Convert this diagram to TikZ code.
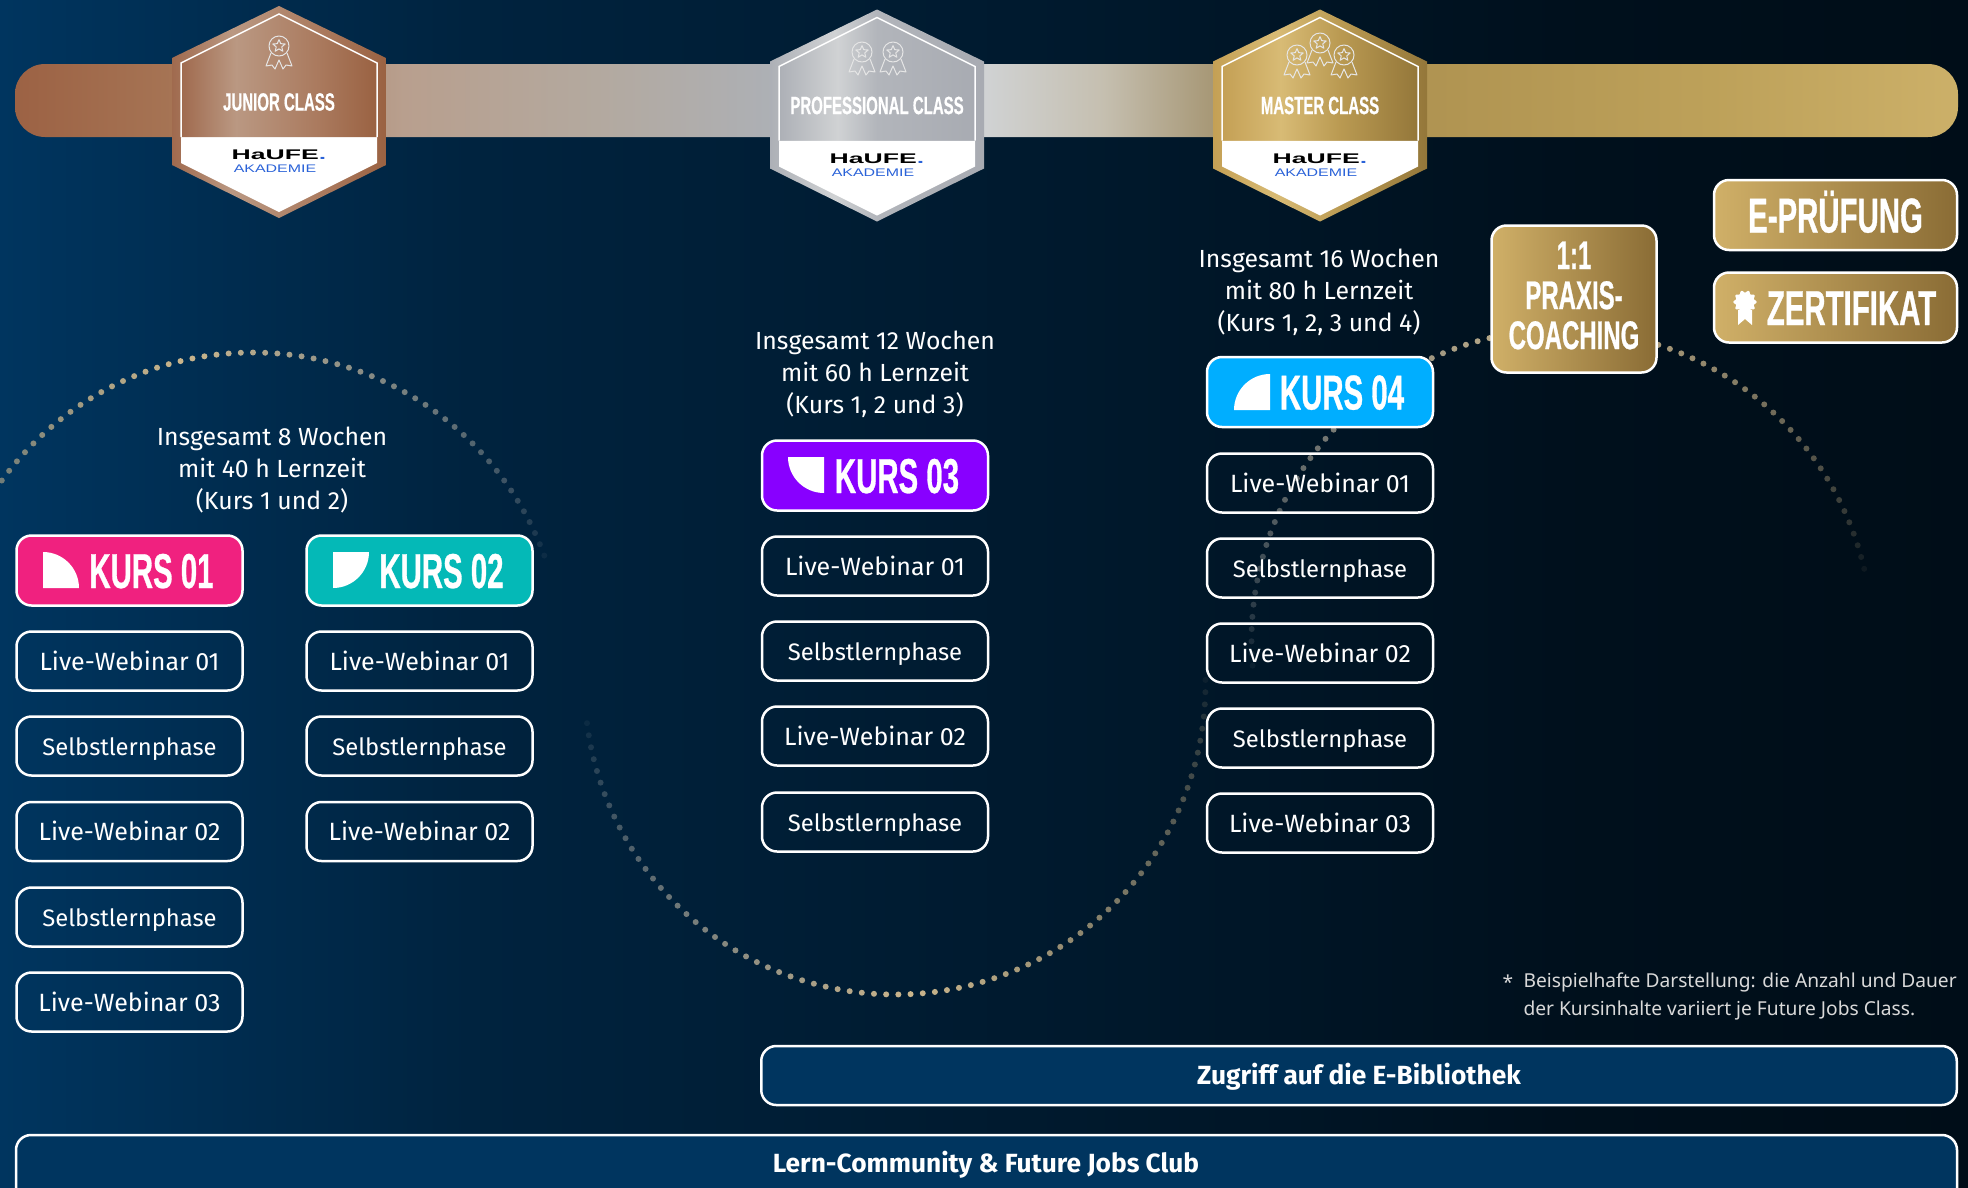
\documentclass[tikz,border=0pt]{standalone}
\usepackage{fontspec}
\setmainfont{Fira Sans}
\newfontfamily\kursfont[FakeStretch=0.6,BoldFeatures={FakeBold=0.6}]{Liberation Sans}
\newfontfamily\logofont[FakeStretch=1.9]{Liberation Sans}
\newfontfamily\akadfont[FakeStretch=1.45]{Liberation Sans}
\newfontfamily\notefont{Noto Sans}
\usetikzlibrary{shadings}

\definecolor{kurspink}{HTML}{F0217F}
\definecolor{kursteal}{HTML}{04B9B7}
\definecolor{kurspurple}{HTML}{8800FF}
\definecolor{kursblue}{HTML}{00AEFF}
\definecolor{barblue}{HTML}{00355F}
\definecolor{dotgray}{HTML}{C4C4C4}
\definecolor{dottan}{HTML}{CBB68C}
\definecolor{logoblue}{HTML}{2A62D8}

\pgfdeclarehorizontalshading{pageshade}{100bp}{color(0bp)=(barblue);color(25bp)=(barblue);color(37bp)=(barblue!66!black);color(52.5bp)=(barblue!47!black);color(65bp)=(barblue!30!black);color(75bp)=(barblue!25!black);color(100bp)=(barblue!25!black)}
\pgfdeclarehorizontalshading{bandshade}{100bp}{rgb(0bp)=(.612,.384,.267);rgb(25bp)=(.612,.384,.267);rgb(30bp)=(.659,.471,.345);rgb(35bp)=(.722,.624,.557);rgb(40bp)=(.702,.663,.624);rgb(44.5bp)=(.678,.690,.710);rgb(50bp)=(.816,.824,.827);rgb(53bp)=(.773,.749,.690);rgb(56bp)=(.647,.584,.447);rgb(61.5bp)=(.690,.580,.320);rgb(68.5bp)=(.740,.630,.350);rgb(75bp)=(.800,.690,.410);rgb(100bp)=(.800,.690,.410)}
\pgfdeclarehorizontalshading{bronzeshade}{100bp}{rgb(0bp)=(.627,.416,.306);rgb(25bp)=(.627,.416,.306);rgb(39bp)=(.729,.596,.510);rgb(60bp)=(.667,.478,.369);rgb(75bp)=(.604,.384,.259);rgb(100bp)=(.604,.384,.259)}
\pgfdeclarehorizontalshading{silvershade}{100bp}{rgb(0bp)=(.678,.690,.714);rgb(25bp)=(.678,.690,.714);rgb(40bp)=(.816,.824,.831);rgb(50bp)=(.698,.710,.733);rgb(75bp)=(.659,.671,.698);rgb(100bp)=(.659,.671,.698)}
\pgfdeclarehorizontalshading{goldshade}{100bp}{rgb(0bp)=(.769,.627,.333);rgb(25bp)=(.769,.627,.333);rgb(40bp)=(.847,.733,.459);rgb(55bp)=(.729,.604,.322);rgb(75bp)=(.580,.467,.227);rgb(100bp)=(.580,.467,.227)}
\pgfdeclarehorizontalshading{buttonshade}{100bp}{rgb(0bp)=(.816,.690,.408);rgb(25bp)=(.816,.690,.408);rgb(75bp)=(.541,.424,.208);rgb(100bp)=(.541,.424,.208)}

\tikzset{
  rowbox/.style={draw=white,line width=2.5pt,rounded corners=15pt,inner sep=0pt,minimum width=226pt,minimum height=59pt,text=white,font=\fontsize{25}{30}\selectfont,text height=23pt,text depth=5pt},
  lernbox/.style={rowbox,font=\fontsize{23.8}{30}\selectfont},
  kursbox/.style={rowbox,minimum height=70pt,font=\kursfont\bfseries\fontsize{49}{49}\selectfont,text height=35pt,text depth=0pt},
  goldbox/.style={kursbox,shading=buttonshade},
  barbox/.style={rowbox,fill=barblue,font=\bfseries\fontsize{26.3}{30}\selectfont},
  intro/.style={text=white,align=center,font=\fontsize{24.8}{32}\selectfont},
  badgetitle/.style={text=white,font=\kursfont\bfseries\fontsize{25}{25}\selectfont},
  logotop/.style={text=black,font=\logofont\bfseries\fontsize{14}{14}\selectfont},
  logobottom/.style={text=logoblue,font=\akadfont\fontsize{11}{11}\selectfont},
  medalline/.style={draw=white!90!black,line width=1pt,line join=round},
  notetext/.style={text=white!85!black,font=\notefont\fontsize{19.2}{28}\selectfont},
}

% hexagon: centre x, y shift, border, fill, node name, title
\newcommand{\badge}[6]{
  \shade[shading=#3] (#1,{6+#2}) -- ({#1+107},{58+#2}) -- ({#1+107},{165+#2}) -- (#1,{218+#2}) -- ({#1-107},{165+#2}) -- ({#1-107},{58+#2}) -- cycle;
  \fill[white] ({#1-98},{137+#2}) -- ({#1+98},{137+#2}) -- ({#1+98},{163+#2}) -- (#1,{212+#2}) -- ({#1-98},{163+#2}) -- cycle;
  \shade[shading=#4] (#1,{14+#2}) -- ({#1+98},{63+#2}) -- ({#1+98},{137+#2}) -- ({#1-98},{137+#2}) -- ({#1-98},{63+#2}) -- cycle;
  \draw[white,line width=1.5pt] ({#1-98},{137+#2}) -- ({#1-98},{63+#2}) -- (#1,{14+#2}) -- ({#1+98},{63+#2}) -- ({#1+98},{137+#2});
  \node[badgetitle] (#5title) at (#1,{102+#2}) {#6};
  \node[logotop] (#5haufe) at (#1,{155+#2}) {HaUFE\textcolor{logoblue}{.}};
  \node[logobottom] (#5akad) at ({#1-4},{169+#2}) {AKADEMIE};
}

\newcommand{\medal}[2]{
  \draw[medalline] (#1,#2) circle (10);
  \draw[medalline] plot[domain=0:360,samples=11] ({#1+(4.7+1.8*cos(5*\x))*sin(\x)},{#2-(4.7+1.8*cos(5*\x))*cos(\x)});
  \draw[medalline] ({#1-8},{#2+7}) -- ({#1-13},{#2+20}) -- ({#1-7},{#2+19}) -- ({#1-4},{#2+23}) -- (#1,{#2+14}) -- ({#1+4},{#2+23}) -- ({#1+7},{#2+19}) -- ({#1+13},{#2+20}) -- ({#1+8},{#2+7});
}

% centre x, centre y, first angle, brightest angle, last angle
\newcommand{\dotarc}[5]{
  \pgfmathtruncatemacro{\dotsteps}{abs(#5-#3)/2.25}
  \foreach \i in {0,...,\dotsteps}{
    \pgfmathsetmacro{\dotang}{#3+(#5-#3)/\dotsteps*\i}
    \pgfmathsetmacro{\dotup}{(\dotang-#3)/(#4-#3)}
    \pgfmathsetmacro{\dotdown}{(#5-\dotang)/(#5-#4)}
    \pgfmathsetmacro{\dotfade}{max(0,min(\dotup,\dotdown))^0.75}
    \pgfmathtruncatemacro{\dotmix}{100*max(0,1-\dotup)}
    \fill[dotgray!\dotmix!dottan,opacity=\dotfade] ({#1+310.5*cos(\dotang)},{#2+310.5*sin(\dotang)}) circle (3);
  }
}

\begin{document}
\begin{tikzpicture}[x=1pt,y=-1pt]
\useasboundingbox (0,0) rectangle (1968,1187);
\clip (0,0) rectangle (1968,1187);
\shade[shading=pageshade] (0,0) rectangle (1968,1187);

% dotted wave
\dotarc{253}{663}{342}{257}{180}
\dotarc{895}{684}{175}{87}{-3}
\dotarc{1562}{640}{173}{270}{349}

% band with the three badges
\shade[shading=bandshade,rounded corners=30pt] (15,64) rectangle (1958,137);
\badge{279}{0}{bronzeshade}{bronzeshade}{junior}{JUNIOR CLASS}
\badge{877}{3.5}{silvershade}{silvershade}{prof}{PROFESSIONAL CLASS}
\badge{1320}{3.5}{goldshade}{goldshade}{master}{MASTER CLASS}
\medal{279}{46}
\medal{862}{52}
\medal{893}{52}
\medal{1297}{55}
\medal{1320}{43}
\medal{1344}{55}

% class texts
\node[intro] (textjunior) at (272,470.5) {Insgesamt 8 Wochen\\mit 40 h Lernzeit\\(Kurs 1 und 2)};
\node[intro] (textprof) at (875,374.5) {Insgesamt 12 Wochen\\mit 60 h Lernzeit\\(Kurs 1, 2 und 3)};
\node[intro] (textmaster) at (1319,292.5) {Insgesamt 16 Wochen\\mit 80 h Lernzeit\\(Kurs 1, 2, 3 und 4)};

% kurs 01
\node[kursbox,fill=kurspink] (kurs1) at (129.5,570.5) {\hspace*{44pt}KURS 01};
\fill[white] (43,552) arc (270:360:36) -- (43,588) -- cycle;
\node[rowbox] (k1a) at (129.5,661) {Live-Webinar 01};
\node[lernbox] (k1b) at (129.5,746) {Selbstlernphase};
\node[rowbox] (k1c) at (129.5,831.5) {Live-Webinar 02};
\node[lernbox] (k1d) at (129.5,917) {Selbstlernphase};
\node[rowbox] (k1e) at (129.5,1002) {Live-Webinar 03};

% kurs 02
\node[kursbox,fill=kursteal] (kurs2) at (419.5,570.5) {\hspace*{44pt}KURS 02};
\fill[white] (333,552) -- (369,552) arc (0:90:36) -- cycle;
\node[rowbox] (k2a) at (419.5,661) {Live-Webinar 01};
\node[lernbox] (k2b) at (419.5,746) {Selbstlernphase};
\node[rowbox] (k2c) at (419.5,831.5) {Live-Webinar 02};

% kurs 03
\node[kursbox,fill=kurspurple] (kurs3) at (875,475.5) {\hspace*{44pt}KURS 03};
\fill[white] (788,457) -- (824,457) -- (824,493) arc (90:180:36) -- cycle;
\node[rowbox] (k3a) at (875,566) {Live-Webinar 01};
\node[lernbox] (k3b) at (875,651) {Selbstlernphase};
\node[rowbox] (k3c) at (875,736) {Live-Webinar 02};
\node[lernbox] (k3d) at (875,822) {Selbstlernphase};

% kurs 04
\node[kursbox,fill=kursblue] (kurs4) at (1320,392) {\hspace*{44pt}KURS 04};
\fill[white] (1270,410) -- (1234,410) arc (180:270:36) -- cycle;
\node[rowbox] (k4a) at (1320,483) {Live-Webinar 01};
\node[lernbox] (k4b) at (1320,568) {Selbstlernphase};
\node[rowbox] (k4c) at (1320,653) {Live-Webinar 02};
\node[lernbox] (k4d) at (1320,738) {Selbstlernphase};
\node[rowbox] (k4e) at (1320,823) {Live-Webinar 03};

% gold buttons
\node[goldbox,minimum width=165pt,minimum height=147pt] (coaching) at (1574,299) {};
\node[text=white,align=center,font=\kursfont\bfseries\fontsize{40}{40}\selectfont] (coachingtext) at (1574,295.5) {1:1\\PRAXIS-\\COACHING};
\node[goldbox,minimum width=243pt] (pruefung) at (1835.5,215) {E-PRÜFUNG};
\node[goldbox,minimum width=243pt] (zertifikat) at (1835.5,307.5) {\hspace*{32pt}ZERTIFIKAT};
\fill[white] plot[domain=0:360,samples=73,smooth cycle] ({1745+(10.5+1.2*cos(10*\x))*cos(\x)},{302+(10.5+1.2*cos(10*\x))*sin(\x)});
\fill[white] (1738,310) -- (1738,325) -- (1745,319) -- (1752,325) -- (1752,310) -- cycle;

% footnote
\node[notetext,anchor=base west] (star) at (1499,989) {*};
\node[notetext,anchor=north west,align=left] (note) at (1520,969) {Beispielhafte Darstellung: die Anzahl und Dauer\\der Kursinhalte variiert je Future Jobs Class.};

% bottom bars
\node[barbox,minimum width=1195.5pt] (bib) at (1359,1075.5) {Zugriff auf die E-Bibliothek};
\draw[white,line width=2.5pt,fill=barblue,rounded corners=15pt] (16,1200) -- (16,1135) -- (1957,1135) -- (1957,1200);
\node[text=white,font=\bfseries\fontsize{26.3}{30}\selectfont] (club) at (986,1165) {Lern-Community \& Future Jobs Club};
\end{tikzpicture}
\end{document}
